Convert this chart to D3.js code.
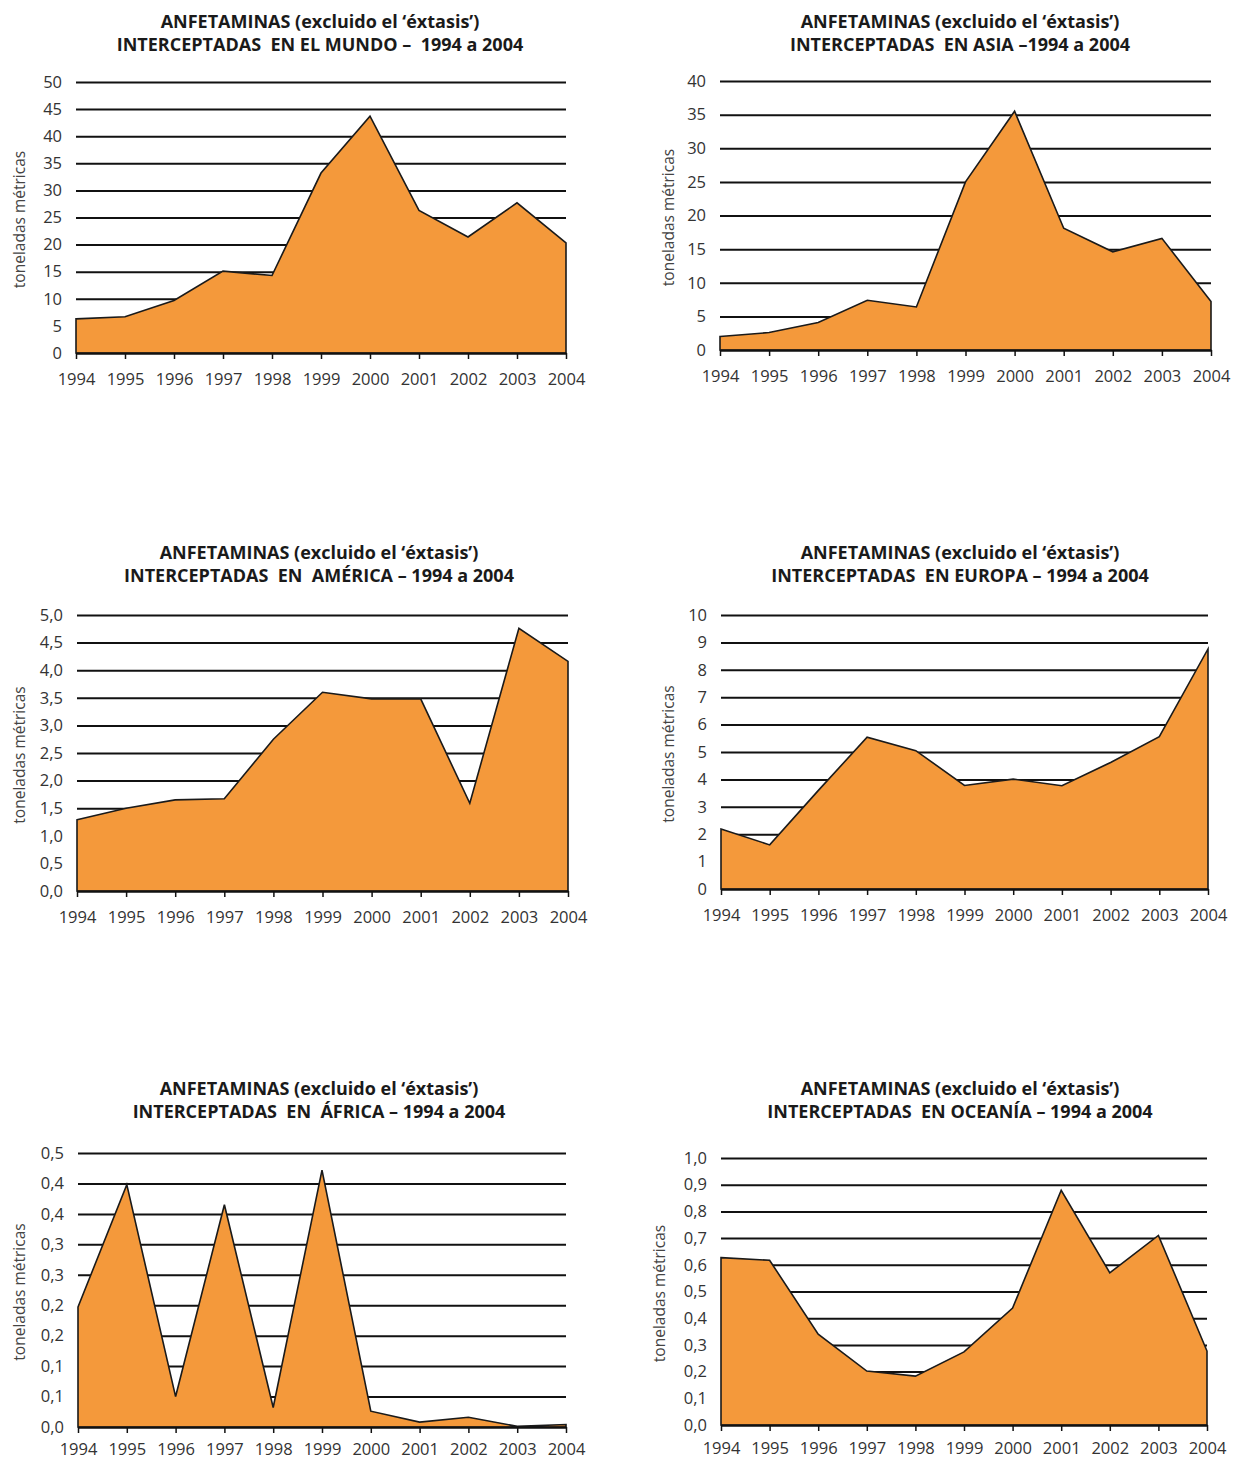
<!DOCTYPE html>
<html>
<head>
<meta charset="utf-8">
<script src="https://cdn.jsdelivr.net/npm/d3@7"></script>
<style>
  body { margin: 0; background: #fff; }
  svg text { font-family: "Open Sans", "Noto Sans", sans-serif; }
</style>
</head>
<body>
<div id="chart"></div>
<script>
// Years on the x axis
const years = ["1994", "1995", "1996", "1997", "1998", "1999", "2000", "2001", "2002", "2003", "2004"];

// Tonnes seized
const mundo   = [6.3, 6.7, 9.7, 15.1, 14.3, 33.2, 43.7, 26.3, 21.4, 27.7, 20.3];
const asia    = [2.0, 2.6, 4.1, 7.4, 6.4, 25.0, 35.5, 18.1, 14.6, 16.6, 7.2];
const america = [1.29, 1.50, 1.65, 1.67, 2.75, 3.60, 3.48, 3.48, 1.59, 4.76, 4.16];
const europa  = [2.19, 1.61, 3.6, 5.54, 5.05, 3.78, 4.01, 3.77, 4.62, 5.56, 8.76];
const africa  = [0.197, 0.398, 0.050, 0.365, 0.032, 0.422, 0.026, 0.008, 0.016, 0.001, 0.004];
const oceania = [0.627, 0.617, 0.340, 0.202, 0.183, 0.274, 0.438, 0.879, 0.570, 0.710, 0.277];

// Y tick values and labels
const ticksMundo   = [0, 5, 10, 15, 20, 25, 30, 35, 40, 45, 50];
const ticksAsia    = [0, 5, 10, 15, 20, 25, 30, 35, 40];
const ticksAmerica = [0, 0.5, 1, 1.5, 2, 2.5, 3, 3.5, 4, 4.5, 5];
const ticksEuropa  = [0, 1, 2, 3, 4, 5, 6, 7, 8, 9, 10];
const ticksAfrica  = [0, 0.05, 0.1, 0.15, 0.2, 0.25, 0.3, 0.35, 0.4, 0.45];
const labelsAfrica = ["0,0", "0,1", "0,1", "0,2", "0,2", "0,3", "0,3", "0,4", "0,4", "0,5"];
const ticksOceania = [0, 0.1, 0.2, 0.3, 0.4, 0.5, 0.6, 0.7, 0.8, 0.9, 1.0];

const titleTop = "ANFETAMINAS (excluido el ‘éxtasis’)";

const W = 1239, H = 1461;
const svg = d3.select("#chart").append("svg")
    .attr("width", W)
    .attr("height", H);

const comma1 = d => d3.format(".1f")(d).replace(".", ",");

// one entry per small chart: where it sits on the page
const panels = [
  { title: "INTERCEPTADAS  EN EL MUNDO –  1994 a 2004", values: mundo, ticks: ticksMundo,
    fmt: d3.format("d"), x0: 76, x1: 566, yTop: 82, yBot: 353, cx: 320, ty: 22, labX: 20, pad: 14 },
  { title: "INTERCEPTADAS  EN ASIA –1994 a 2004", values: asia, ticks: ticksAsia,
    fmt: d3.format("d"), x0: 720, x1: 1211, yTop: 81, yBot: 350, cx: 960, ty: 22, labX: 669, pad: 14 },
  { title: "INTERCEPTADAS  EN  AMÉRICA – 1994 a 2004", values: america, ticks: ticksAmerica,
    fmt: comma1, x0: 77, x1: 568, yTop: 615, yBot: 891, cx: 319, ty: 553, labX: 20, pad: 14 },
  { title: "INTERCEPTADAS  EN EUROPA – 1994 a 2004", values: europa, ticks: ticksEuropa,
    fmt: d3.format("d"), x0: 721, x1: 1208, yTop: 615, yBot: 889, cx: 960, ty: 553, labX: 669, pad: 14 },
  { title: "INTERCEPTADAS  EN  ÁFRICA – 1994 a 2004", values: africa, ticks: ticksAfrica,
    fmt: (d, i) => labelsAfrica[i], x0: 78, x1: 566, yTop: 1153, yBot: 1427, cx: 319, ty: 1089, labX: 20, pad: 10 },
  { title: "INTERCEPTADAS  EN OCEANÍA – 1994 a 2004", values: oceania, ticks: ticksOceania,
    fmt: comma1, x0: 721, x1: 1207, yTop: 1158, yBot: 1425, cx: 960, ty: 1089, labX: 660, pad: 11 }
];

panels.forEach(p => {
  const g = svg.append("g");

  let x = d3.scalePoint().domain(years).range([p.x0, p.x1]);
  let y = d3.scaleLinear()
      .domain([0, p.ticks[p.ticks.length - 1]])
      .range([p.yBot, p.yTop]);

  // Title, two lines
  const t = g.append("text")
      .attr("x", p.cx)
      .attr("y", p.ty)
      .attr("text-anchor", "middle")
      .attr("font-weight", "bold")
      .attr("font-size", 18)
      .style("white-space", "pre")
      .attr("fill", "#1a1a1a");
  t.append("tspan").attr("x", p.cx).attr("dy", "0.35em").text(titleTop);
  t.append("tspan").attr("x", p.cx).attr("dy", 23).text(p.title);

  // Horizontal gridlines + y tick labels
  const yAxis = g.append("g")
      .attr("transform", `translate(${p.x0},0)`)
      .call(d3.axisLeft(y)
          .tickValues(p.ticks)
          .tickSize(-(p.x1 - p.x0))
          .tickPadding(14)
          .tickFormat(p.fmt));
  yAxis.select(".domain").remove();
  yAxis.selectAll(".tick line").attr("stroke", "#111").attr("stroke-width", 2);
  yAxis.selectAll(".tick text")
      .attr("font-size", 16.5)
      .attr("fill", "#333");

  // Area
  let area = d3.area()
      .x((d, i) => x(years[i]))
      .y0(y(0))
      .y1(d => y(d));
  g.append("path")
      .datum(p.values)
      .attr("d", area)
      .attr("fill", "#F4993B")
      .attr("stroke", "#1a1a1a")
      .attr("stroke-width", 1.6)
      .attr("stroke-linejoin", "miter");

  // Bottom axis
  const xAxis = g.append("g")
      .attr("transform", `translate(0,${p.yBot})`)
      .call(d3.axisBottom(x).tickSize(6).tickPadding(p.pad).tickSizeOuter(0));
  xAxis.select(".domain").attr("stroke", "#111").attr("stroke-width", 2);
  xAxis.selectAll(".tick line").attr("stroke", "#111").attr("stroke-width", 1.5);
  xAxis.selectAll(".tick text")
      .attr("font-size", 16.5)
      .attr("fill", "#333");

  // Y axis label
  g.append("text")
      .attr("transform", `translate(${p.labX},${(p.yTop + p.yBot) / 2 + 2}) rotate(-90)`)
      .attr("text-anchor", "middle")
      .attr("dy", "0.35em")
      .attr("font-size", 15.5)
      .attr("fill", "#444")
      .text("toneladas métricas");
});
</script>
</body>
</html>
